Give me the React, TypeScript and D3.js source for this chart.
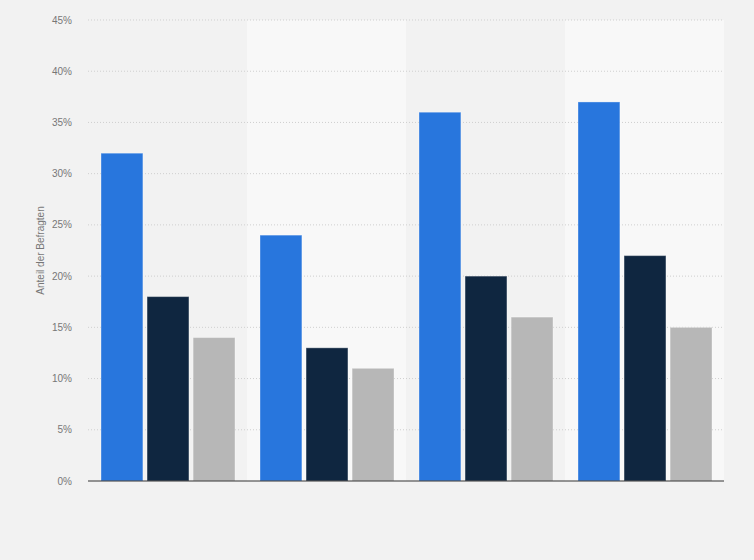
import * as d3 from 'd3';

const groups = ['A', 'B', 'C', 'D'];
const seriesNames = ['Serie 1', 'Serie 2', 'Serie 3'];
const serie1 = [32, 24, 36, 37];
const serie2 = [18, 13, 20, 22];
const serie3 = [14, 11, 16, 15];
const yTicks = [0, 5, 10, 15, 20, 25, 30, 35, 40, 45];
const colors = ['#2876dd', '#0f2640', '#b7b7b7'];

const W = 754;
const H = 560;
const margin = { top: 20, right: 30, bottom: 79, left: 88 };

const App = () => {
  const width = W - margin.left - margin.right;
  const height = H - margin.top - margin.bottom;

  const x = d3.scaleBand().domain(groups).range([0, width]).paddingInner(0).paddingOuter(0);
  const x1 = d3.scaleBand().domain(seriesNames).range([13, x.bandwidth() - 12]).paddingInner(0.09);
  const y = d3.scaleLinear().domain([0, 45]).range([height, 0]);

  const series = [serie1, serie2, serie3];

  return (
    <svg width={W} height={H} style={{ position: 'absolute', left: 0, top: 0, background: '#f2f2f2' }}>
      <rect width={W} height={H} fill="#f2f2f2" />
      <g transform={`translate(${margin.left},${margin.top})`}>
        {groups.map((g, i) =>
          i % 2 === 1 ? (
            <rect key={g} x={x(g)} y={0} width={x.bandwidth()} height={height} fill="#f8f8f8" />
          ) : null
        )}
        {yTicks.map(t => (
          <g key={t}>
            {t > 0 && (
              <line x1={0} x2={width} y1={y(t)} y2={y(t)} stroke="#cfcfcf" strokeWidth={1} strokeDasharray="1,2" />
            )}
            <text
              x={-16}
              y={y(t)}
              dy="0.35em"
              textAnchor="end"
              fontFamily="Liberation Sans, Arial, sans-serif"
              fontSize={10}
              fill="#777"
            >
              {t}%
            </text>
          </g>
        ))}
        {groups.map((g, gi) =>
          seriesNames.map((s, si) => (
            <rect
              key={g + s}
              x={(x(g) || 0) + (x1(s) || 0)}
              y={y(series[si][gi])}
              width={x1.bandwidth()}
              height={height - y(series[si][gi])}
              fill={colors[si]}
              stroke="rgba(255,255,255,0.35)"
              strokeWidth={1}
            />
          ))
        )}
        <line x1={0} x2={width} y1={height} y2={height} stroke="#333" strokeWidth={1.2} />
        <text
          transform={`translate(${-44},${height / 2}) rotate(-90)`}
          textAnchor="middle"
          fontFamily="Liberation Sans, Arial, sans-serif"
          fontSize={10}
          fill="#777"
        >
          Anteil der Befragten
        </text>
      </g>
    </svg>
  );
};

export default App;
